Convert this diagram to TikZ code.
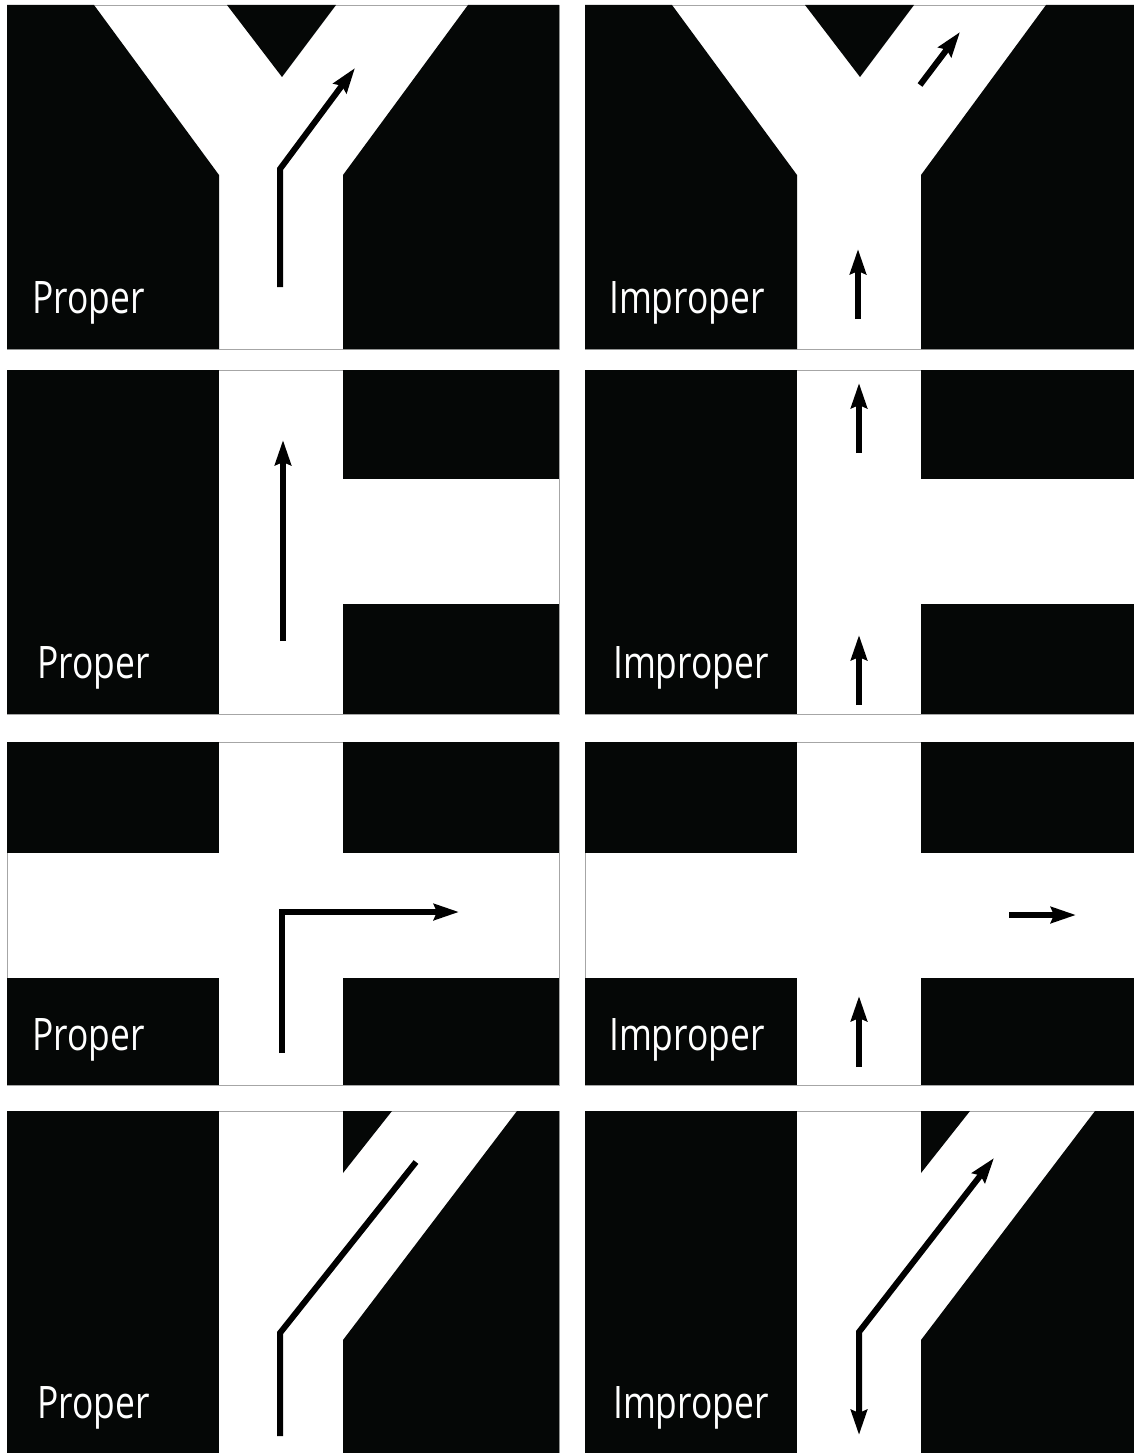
\documentclass[tikz,border=0pt]{standalone}
\usepackage{fontspec}
\setmainfont{Open Sans}[FakeStretch=0.79]
\usetikzlibrary{arrows.meta}
\definecolor{roadblack}{HTML}{050706}

\begin{document}
\begin{tikzpicture}[x=1pt,y=-1pt,
  panel/.style={draw=gray!70,line width=0.8pt,fill=white},
  block/.style={fill=roadblack},
  lane/.style={line width=6pt},
  arr/.style={lane,-{Stealth[length=25pt,width=16pt,inset=3pt]}},
  twoarr/.style={lane,{Stealth[length=25pt,width=16pt,inset=3pt]}-{Stealth[length=25pt,width=16pt,inset=3pt]}},
  tag/.style={text=white,inner sep=0pt,anchor=base west,font=\fontsize{44.8}{50}\selectfont}]
\useasboundingbox (0,0) rectangle (1133,1453);
% road shapes, left and right column
\foreach \dx in {0,578}{
\begin{scope}[xshift=\dx]
  % fork
  \draw[panel] (7,5) rectangle (559,349);
  \fill[block] (7,5) -- (94,5) -- (219,175) -- (219,349) -- (7,349) -- cycle;
  \fill[block] (227,5) -- (336,5) -- (282,77) -- cycle;
  \fill[block] (468,5) -- (559,5) -- (559,349) -- (343,349) -- (343,175) -- cycle;
  % side road
  \draw[panel] (7,370) rectangle (559,714);
  \fill[block] (7,370) rectangle (219,714);
  \fill[block] (343,370) rectangle (559,479);
  \fill[block] (343,604) rectangle (559,714);
  % crossing
  \draw[panel] (7,742) rectangle (559,1085);
  \fill[block] (7,742) rectangle (219,853);
  \fill[block] (343,742) rectangle (559,853);
  \fill[block] (7,978) rectangle (219,1085);
  \fill[block] (343,978) rectangle (559,1085);
  % slanted exit
  \draw[panel] (7,1111) rectangle (559,1456);
  \fill[block] (7,1111) rectangle (219,1456);
  \fill[block] (343,1111) -- (392,1111) -- (343,1173) -- cycle;
  \fill[block] (517,1111) -- (559,1111) -- (559,1456) -- (343,1456) -- (343,1340) -- cycle;
\end{scope}
}
% labels
\node (p1) [tag] at (32,313) {Proper};
\node (i1) [tag] at (609,313) {Improper};
\node (p2) [tag] at (37,678) {Proper};
\node (i2) [tag] at (613,678) {Improper};
\node (p3) [tag] at (32,1050) {Proper};
\node (i3) [tag] at (609,1050) {Improper};
\node (p4) [tag] at (37,1418) {Proper};
\node (i4) [tag] at (613,1418) {Improper};
% arrows
\coordinate (fs) at (280,287);
\coordinate (fb) at (280,169);
\coordinate (ft) at (355,68);
\draw[arr] (fs) -- (fb) -- (ft);
\coordinate (gs) at (858,319);
\coordinate (gt) at (858,249);
\coordinate (hs) at (920,85);
\coordinate (ht) at (960,32);
\draw[arr] (gs) -- (gt);
\draw[arr] (hs) -- (ht);
\coordinate (ss) at (283,641);
\coordinate (st) at (283,440);
\draw[arr] (ss) -- (st);
\coordinate (us) at (859,453);
\coordinate (ut) at (859,383);
\coordinate (vs) at (859,705);
\coordinate (vt) at (859,635);
\draw[arr] (us) -- (ut);
\draw[arr] (vs) -- (vt);
\coordinate (cs) at (282,1053);
\coordinate (cb) at (282,912);
\coordinate (ct) at (459,912);
\draw[arr] (cs) -- (cb) -- (ct);
\coordinate (ds) at (859,1067);
\coordinate (dt) at (859,996);
\coordinate (es) at (1009,915);
\coordinate (et) at (1076,915);
\draw[arr] (ds) -- (dt);
\draw[arr] (es) -- (et);
\coordinate (ks) at (280,1436);
\coordinate (kb) at (280,1333);
\coordinate (kt) at (416,1162);
\draw[lane] (ks) -- (kb) -- (kt);
\coordinate (ms) at (859,1435);
\coordinate (mb) at (859,1332);
\coordinate (mt) at (994,1158);
\draw[twoarr] (ms) -- (mb) -- (mt);
\end{tikzpicture}
\end{document}
